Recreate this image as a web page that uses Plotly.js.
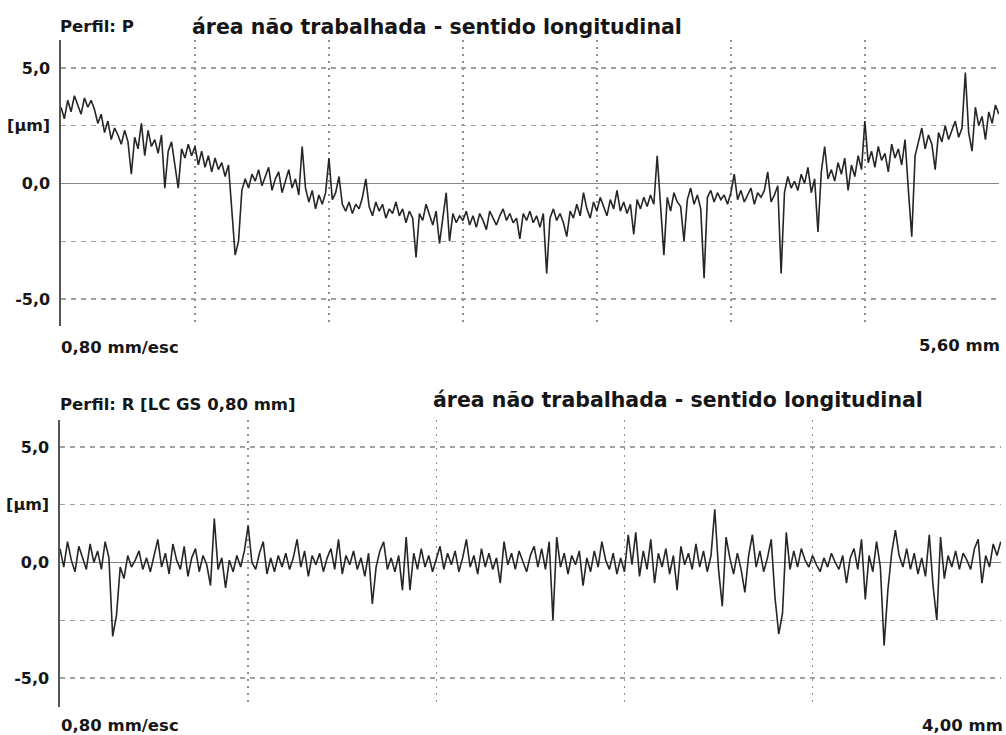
<!DOCTYPE html>
<html><head><meta charset="utf-8">
<script src="https://cdn.plot.ly/plotly-3.0.1.min.js"></script>
<style>html,body{margin:0;padding:0;background:#fff}#chart{width:1006px;height:735px}</style>
</head><body><div id="chart"></div>
<script>
const titleText = 'área não trabalhada - sentido longitudinal';
const profileLabelP = 'Perfil: P';
const profileLabelR = 'Perfil: R [LC GS 0,80 mm]';
const scaleLabel = '0,80 mm/esc';
const lengthLabelP = '5,60 mm';
const lengthLabelR = '4,00 mm';
const yTickVals = [5, 2.5, 0, -2.5, -5];
const yTickText = ['5,0', '[µm]', '0,0', '', '-5,0'];
const xGridP = [0, 0.8, 1.6, 2.4, 3.2, 4.0, 4.8, 5.6];
const xGridR = [0, 0.8, 1.6, 2.4, 3.2, 4.0];
const stepP = 0.02;   // mm between samples, profile P
const stepR = 0.016;  // mm between samples, profile R

const heightP = [
 3.3, 2.8, 3.6, 3.1, 3.8, 3.4, 3.0, 3.7, 3.3, 3.6,
 3.2, 2.6, 3.0, 2.2, 2.7, 1.9, 2.4, 2.1, 1.7, 2.3,
 1.8, 0.4, 2.0, 1.5, 2.6, 1.2, 2.3, 1.6, 1.9, 1.3,
 2.1, -0.2, 1.4, 1.8, 0.9, -0.2, 1.5, 1.1, 1.7, 1.2,
 1.6, 0.8, 1.4, 0.7, 1.2, 0.5, 1.1, 0.6, 0.9, 0.3,
 0.8, -1.2, -3.1, -2.5, -0.3, 0.2, -0.2, 0.4, 0.1, 0.6,
 -0.1, 0.3, 0.7, -0.3, 0.2, 0.5, -0.4, 0.1, 0.6, -0.2,
 0.2, -0.5, 1.6, -0.2, -0.8, -0.3, -1.1, -0.5, -0.9, -0.4,
 1.1, -0.7, -0.4, 0.3, -0.9, -1.2, -0.8, -1.3, -0.9, -1.1,
 -0.6, 0.2, -1.0, -1.4, -0.8, -1.2, -0.9, -1.5, -1.1, -1.3,
 -0.8, -1.4, -1.1, -1.7, -1.2, -1.5, -3.2, -1.3, -1.6, -0.9,
 -1.4, -1.8, -1.2, -2.6, -1.5, -0.4, -2.5, -1.3, -1.7, -1.4,
 -1.6, -1.2, -1.8, -1.4, -1.9, -1.3, -1.6, -2.0, -1.2, -1.5,
 -1.8, -1.4, -1.1, -1.6, -1.3, -1.7, -1.5, -2.4, -1.3, -1.6,
 -1.2, -1.7, -1.4, -1.9, -1.3, -3.9, -1.5, -1.1, -1.6, -1.3,
 -1.7, -2.3, -1.2, -1.5, -0.9, -1.4, -0.4, -1.1, -1.5, -0.8,
 -1.2, -0.6, -1.0, -1.4, -0.7, -1.1, -0.3, -1.2, -0.8, -1.3,
 -0.9, -2.2, -0.7, -1.1, -0.6, -1.0, -0.5, -0.9, 1.2, -1.1,
 -3.1, -0.6, -1.2, -0.4, -0.8, -1.0, -2.5, -0.7, -0.2, -0.9,
 -0.5, -1.1, -4.1, -0.6, -0.3, -0.8, -0.4, -0.7, -0.5, -0.9,
 -0.4, 0.4, -0.7, -0.3, -0.8, -0.5, -0.2, -0.9, -0.4, -0.6,
 -0.3, 0.5, -0.8, -0.5, -0.1, -3.9, -0.4, 0.3, -0.2, 0.1,
 -0.3, 0.4, 0.0, 0.7, -0.4, 0.2, -2.1, 0.5, 1.6, 0.2,
 0.6, 0.1, 0.9, 0.4, 1.1, -0.3, 0.8, 0.3, 1.2, 0.6,
 2.7, 0.9, 1.4, 0.7, 1.6, 1.0, 1.3, 0.5, 1.7, 1.1,
 1.5, 0.8, 1.9, -0.3, -2.3, 1.2, 1.8, 2.4, 1.5, 2.1,
 1.7, 0.6, 2.2, 1.8, 2.5, 1.9, 2.3, 2.7, 2.0, 2.4,
 4.8, 2.2, 1.4, 3.3, 2.5, 2.9, 1.9, 3.1, 2.6, 3.4,
 3.0
];

const heightR = [
 0.6, -0.2, 0.9, 0.1, -0.4, 0.7, 0.2, -0.3, 0.8, 0.0,
 0.5, -0.3, 0.9, 0.2, -3.2, -2.3, -0.2, -0.7, 0.3, -0.2,
 0.1, 0.5, -0.3, 0.2, -0.4, 0.3, 1.0, -0.2, 0.4, -0.5,
 0.8, 0.1, -0.3, 0.7, -0.6, 0.2, 0.6, -0.4, 0.3, -0.1,
 -1.0, 1.9, -0.3, 0.2, -1.1, 0.1, -0.4, 0.3, -0.2, 0.5,
 1.6, 0.0, -0.3, 0.4, 0.9, -0.5, 0.2, -0.4, 0.3, -0.2,
 0.4, -0.3, 0.2, 1.0, -0.2, 0.5, -0.6, 0.3, -0.1, 0.4,
 -0.4, 0.2, 0.6, -0.3, 1.0, -0.5, 0.3, -0.1, 0.5, -0.3,
 0.2, -0.6, 0.4, -1.8, -0.2, 0.5, 0.9, -0.3, 0.2, -0.4,
 0.3, -1.2, 1.1, -1.2, 0.4, -0.3, 0.6, -0.2, 0.3, -0.4,
 0.2, 0.7, -0.3, 0.4, -0.1, 0.5, -0.4, 0.2, 1.0, -0.2,
 0.3, -0.5, 0.6, -0.2, 0.4, -0.3, 0.2, -0.9, 0.9, -0.1,
 0.4, -0.3, 0.5, 0.0, -0.4, 0.3, 0.7, -0.2, 0.6, -0.3,
 0.9, -2.5, 1.1, -0.2, 0.4, -0.5, 0.3, -0.1, 0.5, -1.0,
 0.2, -0.4, 0.5, -0.2, 0.9, 0.1, -0.3, 0.4, -0.5, 0.2,
 -0.4, 1.2, -0.1, 1.3, -0.6, 0.5, -0.3, 1.0, -0.9, 0.4,
 -0.2, 0.6, -0.5, 0.3, -1.2, 0.7, -0.1, 0.4, -0.3, 0.8,
 -0.2, 0.5, -0.4, 0.3, 2.3, -0.3, -1.9, 1.1, 0.2, -0.5,
 0.4, -0.3, -1.3, 0.3, 1.2, -0.2, 0.5, -0.4, 0.2, 1.0,
 -1.5, -3.1, -2.2, 1.3, -0.3, 0.5, -0.2, 0.6, 0.1, -0.2,
 0.3, -0.1, -0.4, 0.2, -0.2, 0.4, 0.0, -0.3, 0.3, -0.9,
 0.2, 0.6, -0.3, 1.0, -1.6, 0.3, -0.4, 0.9, -0.2, -3.6,
 -1.2, 0.4, 1.4, 0.3, -0.2, 0.6, -0.3, 0.4, -0.5, 0.2,
 -0.6, 1.2, -1.0, -2.5, 1.1, -0.7, 0.3, -0.2, 0.5, -0.3,
 0.4, 0.1, -0.3, 0.6, 1.0, -0.9, 0.3, -0.2, 0.8, 0.3,
 0.9
];

const W = 1006, H = 735;
const px = v => v / W;
const py = v => (H - v) / H;
const FONT = 'DejaVu Sans, Arial, sans-serif';
const TXT = '#161616';

const posP = heightP.map((_, i) => +(i * stepP).toFixed(3));
const posR = heightR.map((_, i) => +(i * stepR).toFixed(3));

const lineStyle = {color: '#262626', width: 1.6};
const traces = [
  {x: posP, y: heightP, type: 'scatter', mode: 'lines', line: lineStyle, xaxis: 'x', yaxis: 'y', hoverinfo: 'skip'},
  {x: posR, y: heightR, type: 'scatter', mode: 'lines', line: lineStyle, xaxis: 'x2', yaxis: 'y2', hoverinfo: 'skip'}
];

function xAxis(domain, maxX, grid, anchor) {
  return {domain, range: [0, maxX + 0.001], anchor, tickmode: 'array', tickvals: grid,
    showticklabels: false, ticks: '', showgrid: true, gridcolor: '#8f8f8f', gridwidth: 1.6,
    griddash: '2px,5px', zeroline: false, showline: false, fixedrange: true};
}
function yAxis(domain, range, anchor) {
  return {domain, range, anchor, tickmode: 'array', tickvals: yTickVals, ticktext: yTickText,
    ticks: '', ticklabelstandoff: 6,
    tickfont: {family: FONT, size: 16, color: TXT, weight: 'bold'},
    showgrid: true, gridcolor: '#a0a0a0', gridwidth: 1.3, griddash: '5px,5px',
    zeroline: true, zerolinecolor: '#858585', zerolinewidth: 1.3,
    showline: true, linecolor: '#555', linewidth: 1.6, fixedrange: true};
}

function ann(text, x, y, size, xanchor) {
  return {text, x: px(x), y: py(y), xref: 'paper', yref: 'paper', xanchor: xanchor || 'left',
    yanchor: 'middle', showarrow: false, font: {family: FONT, size, color: TXT, weight: 'bold'}};
}

const layout = {
  width: W, height: H, margin: {l: 0, r: 0, t: 0, b: 0},
  paper_bgcolor: '#fff', plot_bgcolor: '#fff', showlegend: false,
  xaxis: xAxis([px(61), px(999)], 5.6, xGridP, 'y'),
  yaxis: yAxis([py(326), py(40)], [-6.17, 6.21], 'x'),
  xaxis2: xAxis([px(60), px(1001)], 4.0, xGridR, 'y2'),
  yaxis2: yAxis([py(707), py(420)], [-6.26, 6.17], 'x2'),
  annotations: [
    ann(profileLabelP, 58, 27, 16.5),
    ann(titleText, 190, 27, 20.5),
    ann(scaleLabel, 59, 347, 16.5),
    ann(lengthLabelP, 1002, 345, 16.5, 'right'),
    ann(profileLabelR, 58, 404, 16.5),
    ann(titleText, 431, 400, 20.5),
    ann(scaleLabel, 59, 725, 16.5),
    ann(lengthLabelR, 1005, 725, 16.5, 'right')
  ]
};

Plotly.newPlot('chart', traces, layout, {staticPlot: true, displayModeBar: false});
</script>
</body></html>
